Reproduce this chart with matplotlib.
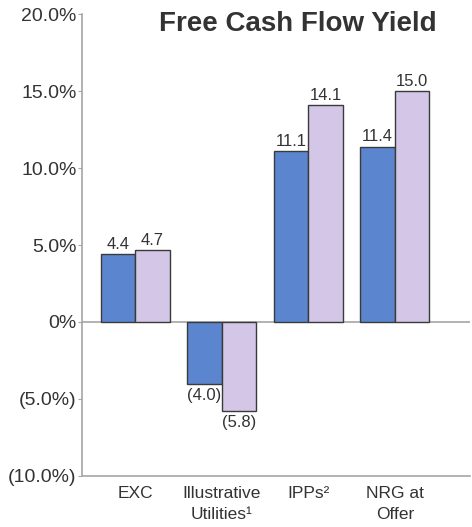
import matplotlib
matplotlib.use("Agg")
import matplotlib.pyplot as plt
import numpy as np

plt.rcParams['font.family'] = ['Liberation Sans', 'DejaVu Sans']

categories = ["EXC", "Illustrative\nUtilities\u00b9", "IPPs\u00b2", "NRG at\nOffer"]
series_a = [4.4, -4.0, 11.1, 11.4]
series_b = [4.7, -5.8, 14.1, 15.0]
ytick_vals = [20, 15, 10, 5, 0, -5, -10]
ytick_labels = ["20.0%", "15.0%", "10.0%", "5.0%", "0%", "(5.0%)", "(10.0%)"]

BLUE = "#5b86cf"
LILAC = "#d4c6e6"
EDGE = "#3a3a3a"
GRAY = "#a6a6a6"
TEXT = "#333333"

fig = plt.figure(figsize=(4.72, 5.27), dpi=100)
ax = fig.add_axes([0.174, 0.097, 0.822, 0.876])

x = np.arange(len(categories))
w = 0.4

def fmt(v):
    return "(%.1f)" % abs(v) if v < 0 else "%.1f" % v

for xs, vals, col in ((x - w / 2, series_a, BLUE), (x + w / 2, series_b, LILAC)):
    bars = ax.bar(xs, vals, width=w, color=col, edgecolor=EDGE, linewidth=1.0, zorder=3)
    for b, v in zip(bars, vals):
        if v >= 0:
            ax.annotate(fmt(v), (b.get_x() + b.get_width() / 2, v), xytext=(0, 1.5),
                        textcoords="offset points", ha="center", va="bottom",
                        fontsize=12, color=TEXT)
        else:
            ax.annotate(fmt(v), (b.get_x() + b.get_width() / 2, v), xytext=(0, -3),
                        textcoords="offset points", ha="center", va="top",
                        fontsize=12, color=TEXT)

ax.axhline(0, color=GRAY, linewidth=1.2, zorder=2)

ax.set_xlim(-0.613, 3.87)
ax.set_ylim(-10, 20)
ax.set_yticks(ytick_vals)
ax.set_yticklabels(ytick_labels, fontsize=14, color=TEXT)
ax.set_xticks(x)
ax.set_xticklabels(categories, fontsize=12.5, color=TEXT, linespacing=1.5)
ax.tick_params(axis="x", length=0, pad=7)
ax.tick_params(axis="y", length=3, color=GRAY, pad=1)

for s in ("top", "right"):
    ax.spines[s].set_visible(False)
for s in ("left", "bottom"):
    ax.spines[s].set_color(GRAY)
    ax.spines[s].set_linewidth(1.2)

fig.text(0.63, 0.955, "Free Cash Flow Yield", ha="center", va="center",
         fontsize=20, fontweight="bold", color=TEXT)

fig.savefig("out.png", dpi=100)
